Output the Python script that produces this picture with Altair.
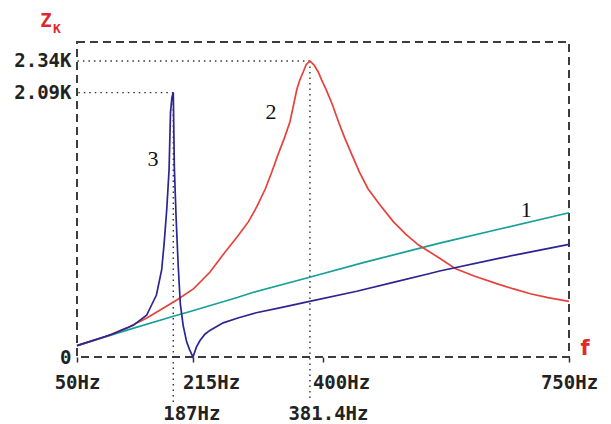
import altair as alt
import pandas as pd

# ---- data (frequency in Hz, impedance in kOhm) ----
# curve 1 (teal)
f1 = [50, 120, 192, 211, 278, 300, 381, 460, 552, 566, 650, 750]
z1 = [0.09, 0.21, 0.33, 0.36, 0.47, 0.51, 0.63, 0.75, 0.88, 0.90, 1.01, 1.14]

# curve 2 (red, resonance at 381.4 Hz)
f2 = [50, 90, 121, 150, 192, 216, 239, 258, 278, 294, 306, 318, 327, 336, 345, 353,
      363, 367, 372, 376, 381.4, 387, 393, 398, 404, 413, 422, 431, 441, 452, 464, 480, 500, 518, 536,
      552, 566, 588, 615, 647, 670, 695, 720, 750]
z2 = [0.09, 0.16, 0.23, 0.31, 0.45, 0.54, 0.67, 0.81, 0.95, 1.07, 1.19, 1.33, 1.46, 1.60, 1.73, 1.86,
      2.12, 2.19, 2.255, 2.31, 2.34, 2.31, 2.255, 2.19, 2.12, 2.00, 1.86, 1.73, 1.60, 1.46, 1.33, 1.21, 1.07, 0.97, 0.885,
      0.83, 0.78, 0.70, 0.64, 0.58, 0.54, 0.50, 0.47, 0.44]

# curve 3 (navy, peak at 187 Hz, zero near 215 Hz)
f3 = [50, 100, 130, 149, 163, 170.5, 174, 177.6, 181, 183, 185, 187, 188.5, 191, 194, 197,
      201, 206, 210, 215, 220, 225, 232, 239, 258, 280, 305, 340, 381, 448, 500, 552, 566, 650, 750]
z3 = [0.09, 0.18, 0.25, 0.33, 0.49, 0.69, 0.90, 1.16, 1.48, 1.93, 2.05, 2.09, 1.50, 1.10, 0.72, 0.42,
      0.25, 0.12, 0.06, 0.0, 0.08, 0.13, 0.18, 0.21, 0.27, 0.31, 0.35, 0.39, 0.44, 0.52, 0.59, 0.66, 0.68, 0.78, 0.89]

curve_names = ["1", "2", "3"]
curve_colors = ["#16a09a", "#e8413a", "#2c2592"]

# marked peaks
peak_f = [187, 381.4]
peak_z = [2.09, 2.34]

# curve number labels
label_text = ["1", "2", "3"]
label_f = [689, 326, 158]
label_z = [1.16, 1.94, 1.565]

x_ticks = [50, 187, 215, 381.4, 400, 750]
y_ticks = [0, 2.09, 2.34]

# ---- tables ----
curves = pd.concat([
    pd.DataFrame({"f": f1, "z": z1, "curve": "1"}),
    pd.DataFrame({"f": f2, "z": z2, "curve": "2"}),
    pd.DataFrame({"f": f3, "z": z3, "curve": "3"}),
], ignore_index=True)
peaks = pd.DataFrame({"f": peak_f, "z": peak_z})
labels = pd.DataFrame({"t": label_text, "f": label_f, "z": label_z})

W, H = 492, 315
xs = alt.Scale(domain=[50, 750], nice=False, zero=False)
ys = alt.Scale(domain=[0, 2.49], nice=False, zero=False)

x_axis = alt.Axis(
    values=x_ticks, title=None, grid=False, domain=False,
    labelExpr="(datum.value == 187 || datum.value == 381.4) ? ['', datum.value + 'Hz'] : datum.value + 'Hz'",
    labelFont="DejaVu Sans Mono", labelFontSize=19, labelFontWeight="bold", labelColor="#222222",
    labelLineHeight=31, labelAlign="center", labelBaseline="top", labelPadding=11,
    labelOffset={"condition": {"test": "datum.value > 100 && datum.value < 700", "value": 18}, "value": 0},
    tickSize=5, tickColor="#333333", tickWidth=1.5,
    tickOpacity={"condition": {"test": "datum.value == 187 || datum.value == 381.4", "value": 0}, "value": 1},
    labelOverlap=False, labelFlush=False, labelBound=False,
)
y_axis = alt.Axis(
    values=y_ticks, title=None, grid=False, domain=False, ticks=False,
    labelExpr="datum.value == 0 ? '0' : format(datum.value, '.2f') + 'K'",
    labelFont="DejaVu Sans Mono", labelFontSize=19, labelFontWeight="bold", labelColor="#222222",
    labelPadding=6, labelOverlap=False, labelFlush=False,
)

lines = alt.Chart(curves).mark_line(strokeWidth=1.7).encode(
    x=alt.X("f:Q", scale=xs, axis=x_axis),
    y=alt.Y("z:Q", scale=ys, axis=y_axis),
    color=alt.Color("curve:N", scale=alt.Scale(domain=curve_names, range=curve_colors), legend=None),
    order=alt.Order("f:Q"),
)

dot = dict(color="#333333", strokeWidth=1.4, strokeDash=[1.5, 4])
hrules = alt.Chart(peaks).mark_rule(**dot).encode(
    x=alt.X("f:Q", scale=xs), x2=alt.value(0), y=alt.Y("z:Q", scale=ys)
)
vrules = alt.Chart(peaks).mark_rule(**dot).encode(
    x=alt.X("f:Q", scale=xs), y=alt.Y("z:Q", scale=ys), y2=alt.value(H + 45)
)

nums = alt.Chart(labels).mark_text(
    font="Liberation Serif", fontSize=22, color="#111111"
).encode(x=alt.X("f:Q", scale=xs), y=alt.Y("z:Q", scale=ys), text="t:N")

red = "#e0282c"
z_title = alt.Chart(pd.DataFrame({"t": ["Z"]})).mark_text(
    font="DejaVu Sans Mono", fontSize=19, fontWeight="bold", color=red
).encode(x=alt.value(-31), y=alt.value(-21), text="t:N")
k_sub = alt.Chart(pd.DataFrame({"t": ["K"]})).mark_text(
    font="DejaVu Sans Mono", fontSize=13, fontWeight="bold", color=red
).encode(x=alt.value(-20), y=alt.value(-13), text="t:N")
f_title = alt.Chart(pd.DataFrame({"t": ["f"]})).mark_text(
    font="DejaVu Sans", fontSize=21, fontWeight="bold", color=red
).encode(x=alt.value(W + 16), y=alt.value(H - 8), text="t:N")

chart = alt.layer(hrules, vrules, lines, nums, z_title, k_sub, f_title).properties(
    width=W, height=H,
    autosize="none",
    padding={"left": 69, "top": 34, "right": 34, "bottom": 65},
    background="white",
).configure_view(
    stroke="#3c3c3c", strokeWidth=2, strokeDash=[8, 5]
)

chart.save("out.html", embed_options={"renderer": "svg", "actions": False})
